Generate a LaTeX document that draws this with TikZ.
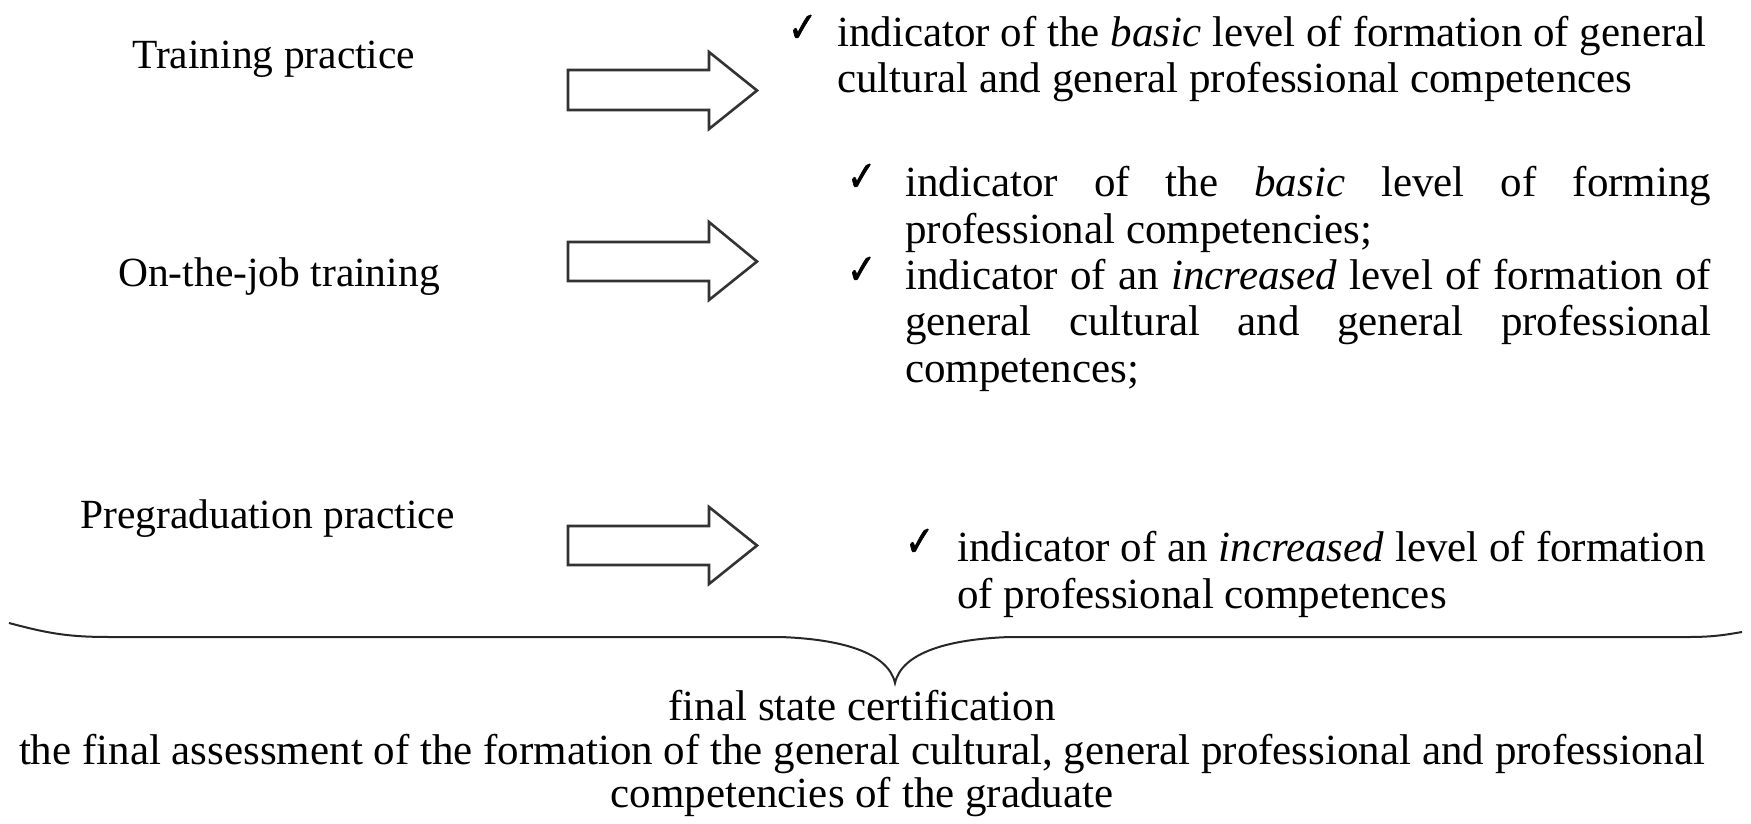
\documentclass[tikz,border=0pt]{standalone}
\usepackage{fontspec}
\setmainfont{Liberation Serif}
\newfontfamily\symfont[FakeBold=1.6]{DejaVu Sans}
\newcommand{\chk}{\raisebox{5pt}{\resizebox{29pt}{27pt}{\symfont ✓}}}
\newcommand{\jline}[2]{\makebox[#1][s]{#2}}
\begin{document}
\begin{tikzpicture}[x=1pt,y=-1pt,
  txt/.style={inner sep=0pt,anchor=base west,font=\fontsize{43pt}{46.5pt}\selectfont},
  lbl/.style={inner sep=0pt,anchor=base west,font=\fontsize{41.5pt}{46.5pt}\selectfont},
  ctxt/.style={inner sep=0pt,anchor=base,font=\fontsize{43pt}{46.5pt}\selectfont},
  chkmark/.style={inner sep=0pt,anchor=base west},
  blk/.style={draw=black!80,line width=2.6pt,fill=white,line join=miter},
  bracel/.style={draw=black!85,line width=2pt}]
\useasboundingbox (0,0) rectangle (1751,824);
% left labels
\node[lbl] (l1) at (132,69) {Training practice};
\node[lbl] (l2) at (118,286) {On-the-job training};
\node[lbl] (l3) at (80,528) {Pregraduation practice};
% block arrows
\draw[blk] (568,70) -- (709,70) -- (709,52) -- (757,90.5) -- (709,129) -- (709,110) -- (568,110) -- cycle;
\draw[blk] (568,242) -- (709,242) -- (709,222) -- (757,261.5) -- (709,300) -- (709,281) -- (568,281) -- cycle;
\draw[blk] (568,526) -- (709,526) -- (709,507) -- (757,545.5) -- (709,584) -- (709,565) -- (568,565) -- cycle;
% block 1
\node[chkmark] (c1) at (788,47) {\chk};
\node[txt] (t11) at (837,47) {indicator of the \textit{basic} level of formation of general};
\node[txt] (t12) at (837,93) {cultural and general professional competences};
% block 2
\node[chkmark] (c2) at (847,196) {\chk};
\node[txt] (t21) at (905,196) {\jline{806pt}{indicator of the \textit{basic} level of forming}};
\node[txt] (t22) at (905,243) {professional competencies;};
\node[chkmark] (c3) at (847,289) {\chk};
\node[txt] (t23) at (905,289) {\jline{806pt}{indicator of an \textit{increased} level of formation of}};
\node[txt] (t24) at (905,335) {\jline{806pt}{general cultural and general professional}};
\node[txt] (t25) at (905,382) {competences;};
% block 3
\node[chkmark] (c4) at (905,561) {\chk};
\node[txt] (t31) at (957,561) {indicator of an \textit{increased} level of formation};
\node[txt] (t32) at (957,608) {of professional competences};
% brace
\draw[bracel] (9,623) .. controls (50,634) and (70,637) .. (110,637) -- (780,637)
  .. controls (840,639) and (888,652) .. (895,683)
  .. controls (902,652) and (950,639) .. (1010,637) -- (1690,637)
  .. controls (1715,637) and (1730,634) .. (1742,632);
% bottom
\node[ctxt] (b1) at (862,720) {final state certification};
\node[ctxt] (b2) at (862,764) {the final assessment of the formation of the general cultural, general professional and professional};
\node[ctxt] (b3) at (862,807) {competencies of the graduate};
\end{tikzpicture}
\end{document}
